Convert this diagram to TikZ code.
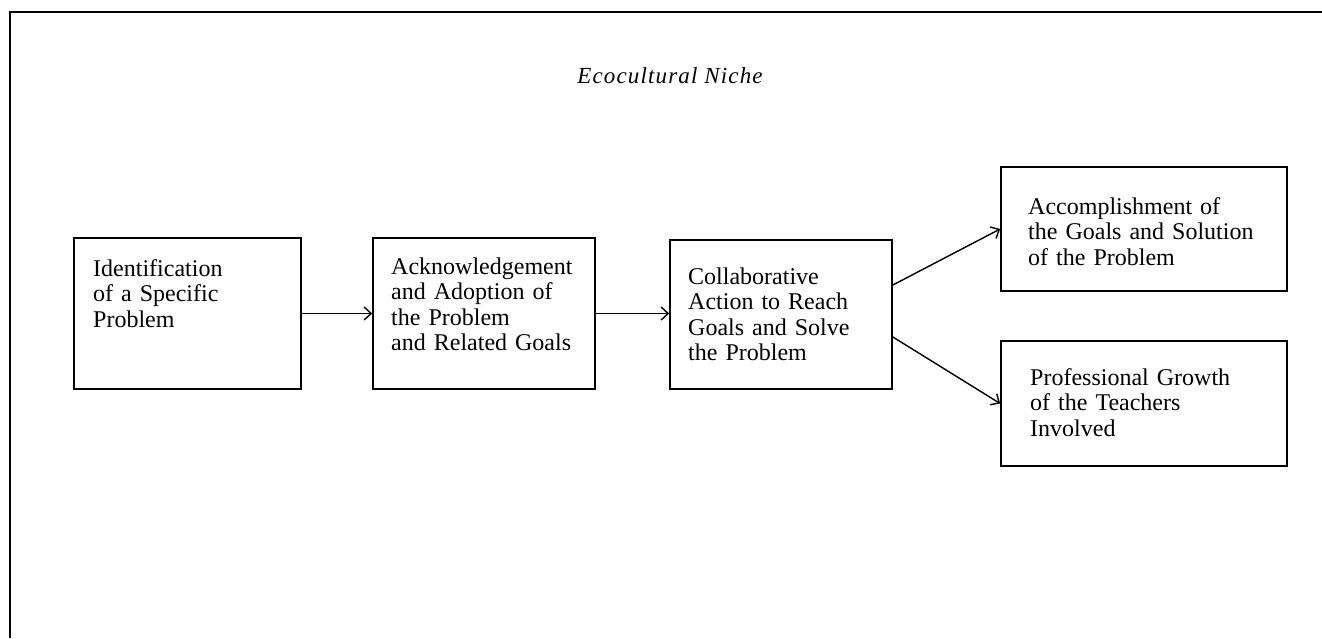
\documentclass[tikz,border=0pt]{standalone}
\usepackage{fontspec}
\setmainfont{Liberation Serif}
\newfontfamily\ecotitlefont{Liberation Serif}[LetterSpace=5]
\usetikzlibrary{arrows.meta}
\begin{document}
\begin{tikzpicture}[x=1pt,y=-1pt,
  box/.style={draw=black, line width=1.7pt, inner sep=0pt, rectangle},
  txt/.style={inner sep=0pt, align=left, text width=270pt, anchor=base west,
    font=\fontsize{24}{25.5}\selectfont},
  arr/.style={draw=black, line width=1.4pt, -{Straight Barb[length=7pt,width=13pt]}},
  frame/.style={draw=black, line width=1.9pt}]
\useasboundingbox (0,0) rectangle (1322,638);
% outer frame (top and left edges)
\draw[frame] (10,638) -- (10,12) -- (1322,12);
% title
\node[inner sep=0pt, anchor=base, font=\fontsize{23}{25}\ecotitlefont\itshape] (title) at (670,83) {Ecocultural Niche};
% boxes
\node[box, minimum width=227pt, minimum height=151pt] (b1) at (187.5,313.5) {};
\node[box, minimum width=222pt, minimum height=151pt] (b2) at (484,313.5) {};
\node[box, minimum width=222pt, minimum height=149pt] (b3) at (781,314.5) {};
\node[box, minimum width=286pt, minimum height=124pt] (b4) at (1144,229) {};
\node[box, minimum width=286pt, minimum height=125pt] (b5) at (1144,403.5) {};
% texts
\node[txt] (t1) at (93,276) {Identification\\of a Specific\\Problem};
\node[txt] (t2) at (391,274) {Acknowledgement\\and Adoption of\\the Problem\\and Related Goals};
\node[txt] (t3) at (688,284) {Collaborative\\Action to Reach\\Goals and Solve\\the Problem};
\node[txt] (t4) at (1028,214) {Accomplishment of\\the Goals and Solution\\of the Problem};
\node[txt] (t5) at (1030,385) {Professional Growth\\of the Teachers\\Involved};
% connectors
\draw[arr] (b1.east) -- (b2.west);
\draw[arr] (b2.east) -- (b2.east -| b3.west);
\coordinate (s4) at ([yshift=29.5pt]b3.east);
\coordinate (s5) at ([yshift=-22.5pt]b3.east);
\draw[arr] (s4) -- (b4.west);
\draw[arr] (s5) -- (b5.west);
\end{tikzpicture}
\end{document}
